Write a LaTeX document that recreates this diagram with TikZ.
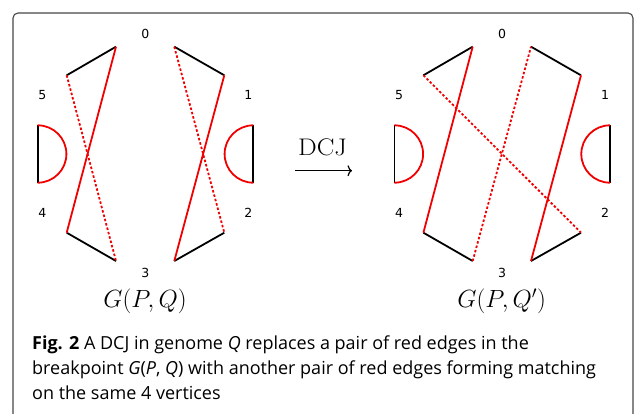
\documentclass[tikz,border=0pt]{standalone}
\usepackage{fontspec}
\usepackage{graphicx}
\newfontfamily\labelfont{DejaVu Sans}
\newfontfamily\capfont{Open Sans}
\usetikzlibrary{arrows.meta}
\definecolor{edgered}{RGB}{240,0,0}
\definecolor{framegray}{RGB}{70,70,70}
\tikzset{
  blackedge/.style={draw=black, line width=1.8pt},
  rededge/.style={draw=edgered, line width=1.8pt},
  reddot/.style={draw=edgered, line width=1.8pt, dash pattern=on 2.5pt off 2pt},
  vlabel/.style={font=\labelfont\fontsize{12.5}{14}\selectfont, inner sep=0pt},
  glabel/.style={font=\fontsize{25}{28}\selectfont, inner sep=0pt},
  caption/.style={font=\capfont\fontsize{18}{22}\selectfont, inner sep=0pt, anchor=base west},
  framebox/.style={draw=framegray, line width=1.1pt, rounded corners=5pt}
}
\begin{document}
\begin{tikzpicture}[x=1pt,y=-1pt]
\useasboundingbox (0,0) rectangle (634,413);
% frame
\coordinate (fbl) at (13,440);
\coordinate (ftl) at (13,13);
\coordinate (ftr) at (633,13);
\coordinate (fbr) at (633,440);
\draw[framebox] (fbl) -- (ftl) -- (ftr) -- (fbr);

% ---------- left graph G(P,Q) ----------
\coordinate (L0a) at (116,46.7);
\coordinate (L0b) at (174.3,46.7);
\coordinate (L1)  at (224.3,75.3);
\coordinate (L5)  at (66.7,75.3);
\coordinate (L4)  at (66.7,232.7);
\coordinate (L2)  at (224.3,232.7);
\coordinate (L3a) at (116,261);
\coordinate (L3b) at (174.3,261);
\coordinate (LHlt) at (37.7,125.3);
\coordinate (LHlb) at (37.7,182.7);
\coordinate (LHrt) at (253.3,125.3);
\coordinate (LHrb) at (253.3,182.7);

\draw[blackedge] (L5) -- (L0a);
\draw[blackedge] (L0b) -- (L1);
\draw[blackedge] (L4) -- (L3a);
\draw[blackedge] (L3b) -- (L2);
\draw[rededge] (L0a) -- (L4);
\draw[rededge] (L1) -- (L3b);
\draw[reddot] (L5) -- (L3a);
\draw[reddot] (L0b) -- (L2);
\draw[blackedge] (LHlt) -- (LHlb);
\draw[rededge] (LHlt) arc[start angle=-90, end angle=90, radius=28.7];
\draw[blackedge] (LHrt) -- (LHrb);
\draw[rededge] (LHrt) arc[start angle=270, end angle=90, radius=28.7];

\node[vlabel] (Ll0) at (145.3,34.3) {0};
\node[vlabel] (Ll1) at (248.3,95) {1};
\node[vlabel] (Ll2) at (248.3,213.3) {2};
\node[vlabel] (Ll3) at (145.3,272.7) {3};
\node[vlabel] (Ll4) at (42.3,213.3) {4};
\node[vlabel] (Ll5) at (42.3,95) {5};
\node[glabel] (Lg) at (145,301.7) {$G(P,Q)$};

% ---------- right graph G(P,Q') ----------
\coordinate (R0a) at (472.7,46.7);
\coordinate (R0b) at (531,46.7);
\coordinate (R1)  at (581,75.3);
\coordinate (R5)  at (423.4,75.3);
\coordinate (R4)  at (423.4,232.7);
\coordinate (R2)  at (581,232.7);
\coordinate (R3a) at (472.7,261);
\coordinate (R3b) at (531,261);
\coordinate (RHlt) at (394.4,125.3);
\coordinate (RHlb) at (394.4,182.7);
\coordinate (RHrt) at (610,125.3);
\coordinate (RHrb) at (610,182.7);

\draw[blackedge] (R5) -- (R0a);
\draw[blackedge] (R0b) -- (R1);
\draw[blackedge] (R4) -- (R3a);
\draw[blackedge] (R3b) -- (R2);
\draw[rededge] (R0a) -- (R4);
\draw[rededge] (R1) -- (R3b);
\draw[reddot] (R3a) -- (R0b);
\draw[reddot] (R5) -- (R2);
\draw[blackedge] (RHlt) -- (RHlb);
\draw[rededge] (RHlt) arc[start angle=-90, end angle=90, radius=28.7];
\draw[blackedge] (RHrt) -- (RHrb);
\draw[rededge] (RHrt) arc[start angle=270, end angle=90, radius=28.7];

\node[vlabel] (Rl0) at (502,34.3) {0};
\node[vlabel] (Rl1) at (605,95) {1};
\node[vlabel] (Rl2) at (605,213.3) {2};
\node[vlabel] (Rl3) at (502,272.7) {3};
\node[vlabel] (Rl4) at (399,213.3) {4};
\node[vlabel] (Rl5) at (399,95) {5};
\node[glabel] (Rg) at (501.7,301.7) {$G(P,Q')$};

% ---------- DCJ arrow ----------
\node[font=\fontsize{24}{26}\selectfont, inner sep=0pt, anchor=base] (dcj) at (322.5,155) {\scalebox{1.1}[1]{DCJ}};
\coordinate (arrS) at (295,170.7);
\coordinate (arrE) at (352,170.7);
\draw[line width=1.2pt, -{To[length=4.5pt,width=11pt]}] (arrS) -- (arrE);

% ---------- caption ----------
\node[caption] (cap1) at (32,349) {\textbf{Fig. 2} A DCJ in genome \textit{Q} replaces a pair of red edges in the};
\node[caption] (cap2) at (32,374) {breakpoint \textit{G}(\textit{P}, \textit{Q}) with another pair of red edges forming matching};
\node[caption] (cap3) at (32,399) {on the same 4 vertices};
\end{tikzpicture}
\end{document}
